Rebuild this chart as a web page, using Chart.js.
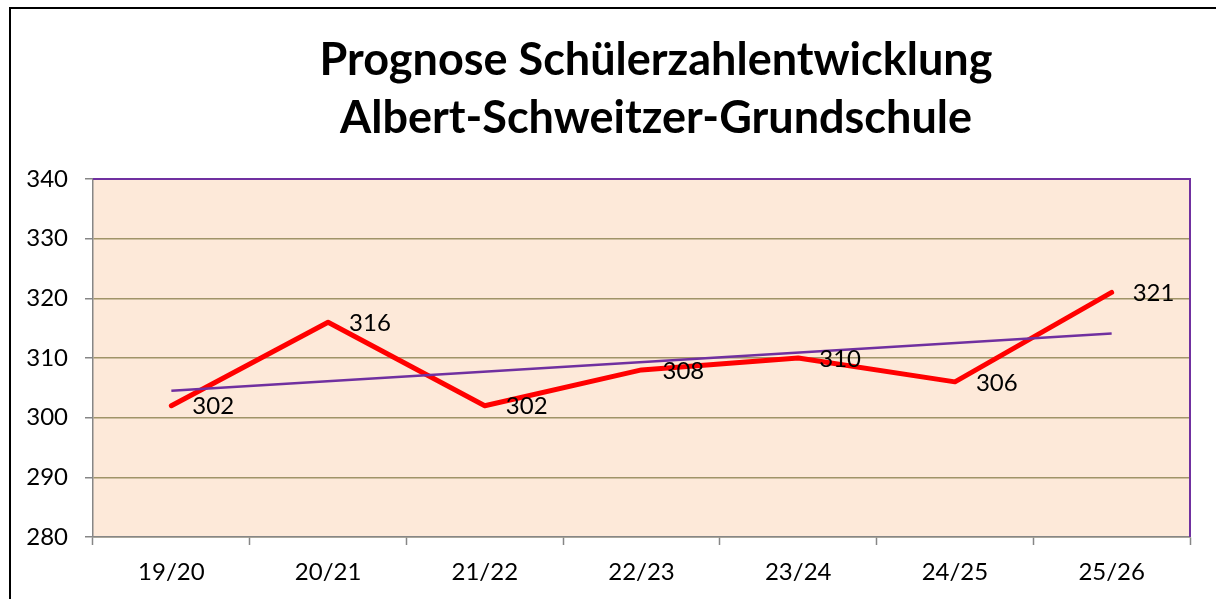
<!DOCTYPE html>
<html>
<head>
<meta charset="utf-8">
<script src="https://cdn.jsdelivr.net/npm/chart.js@4.4.1/dist/chart.umd.min.js"></script>
<style>
	html, body { margin: 0; padding: 0; background: #fff; overflow: hidden; }
	#wrap { position: relative; width: 1216px; height: 599px; }
	#frame { position: absolute; left: 9px; top: 7px; right: -10px; bottom: -10px; border: 2px solid #000; }
	#chart { position: absolute; left: 0; top: 0; }
</style>
</head>
<body>
<div id="wrap">
	<div id="frame"></div>
	<canvas id="chart" width="1216" height="599"></canvas>
</div>
<script>
// school years shown on the x axis
var years		= ["19/20", "20/21", "21/22", "22/23", "23/24", "24/25", "25/26"];
// forecast pupil numbers
var pupils		= [302, 316, 302, 308, 310, 306, 321];
// linear trend line at first and last year
var trend		= [304.5, null, null, null, null, null, 314.1];
var yTicks		= [280, 290, 300, 310, 320, 330, 340];
var titleLines	= ["Prognose Schülerzahlentwicklung", "Albert-Schweitzer-Grundschule"];

var FONT = "Lato, 'Open Sans', sans-serif";

// peach plot background and purple top/right edge like the excel original
var plotArea = {
	id: "plotArea",
	beforeDraw: function(chart) {
		var a = chart.chartArea, ctx = chart.ctx;
		ctx.save();
		ctx.fillStyle = "#fde9d9";
		ctx.fillRect(a.left, a.top, a.right - a.left, a.bottom - a.top);
		ctx.restore();
	},
	afterDraw: function(chart) {
		var a = chart.chartArea, ctx = chart.ctx;
		ctx.save();
		ctx.strokeStyle = "#7030a0";
		ctx.lineWidth = 2;
		ctx.beginPath();
		ctx.moveTo(a.left, a.top);
		ctx.lineTo(a.right, a.top);
		ctx.lineTo(a.right, a.bottom);
		ctx.stroke();
		ctx.restore();
	}
};

// two line title, centred a bit right of the plot like the original
var titleText = {
	id: "titleText",
	afterDraw: function(chart) {
		var ctx = chart.ctx;
		ctx.save();
		ctx.fillStyle = "#000";
		ctx.font = "bold 45px " + FONT;
		ctx.textAlign = "center";
		ctx.textBaseline = "middle";
		ctx.fillText(titleLines[0], 656, 60);
		ctx.fillText(titleLines[1], 656, 118);
		ctx.restore();
	}
};

// value labels to the right of each point
var valueLabels = {
	id: "valueLabels",
	afterDatasetsDraw: function(chart) {
		var ctx = chart.ctx;
		var meta = chart.getDatasetMeta(0);
		ctx.save();
		ctx.fillStyle = "#000";
		ctx.font = "24px " + FONT;
		ctx.textAlign = "left";
		ctx.textBaseline = "middle";
		meta.data.forEach(function(pt, i) {
			ctx.fillText(String(pupils[i]), pt.x + 21, pt.y + 1);
		});
		ctx.restore();
	}
};

new Chart(document.getElementById("chart"), {
	type: "line",
	data: {
		labels: years,
		datasets: [
			{
				data: pupils,
				borderColor: "#ff0000",
				borderWidth: 5,
				borderCapStyle: "round",
				borderJoinStyle: "round",
				pointRadius: 0,
				tension: 0,
				order: 2
			},
			{
				data: trend,
				borderColor: "#7030a0",
				borderWidth: 2.5,
				pointRadius: 0,
				spanGaps: true,
				tension: 0,
				order: 1
			}
		]
	},
	options: {
		responsive: false,
		animation: false,
		layout: { padding: { top: 179, right: 26, left: 0, bottom: 0 } },
		plugins: {
			legend: { display: false },
			tooltip: { enabled: false },
			title: { display: false }
		},
		scales: {
			x: {
				offset: true,
				grid: { display: true, drawOnChartArea: false, offset: true, tickLength: 8, tickColor: "#868686", tickWidth: 1.5 },
				border: { color: "#868686", width: 1.5 },
				ticks: { color: "#000", font: { family: FONT, size: 24 }, padding: 13, maxRotation: 0 },
				afterFit: function(scale) { scale.height = 62; }
			},
			y: {
				min: yTicks[0],
				max: yTicks[yTicks.length - 1],
				afterBuildTicks: function(scale) {
					scale.ticks = yTicks.map(function(v) { return { value: v }; });
				},
				grid: { color: "#a09468", lineWidth: 1.5, tickLength: 8, tickColor: "#868686", tickWidth: 1.5 },
				border: { color: "#868686", width: 1.5 },
				ticks: { color: "#000", font: { family: FONT, size: 24 }, padding: 17 },
				afterFit: function(scale) { scale.width = 93; }
			}
		}
	},
	plugins: [plotArea, titleText, valueLabels]
});
</script>
</body>
</html>
